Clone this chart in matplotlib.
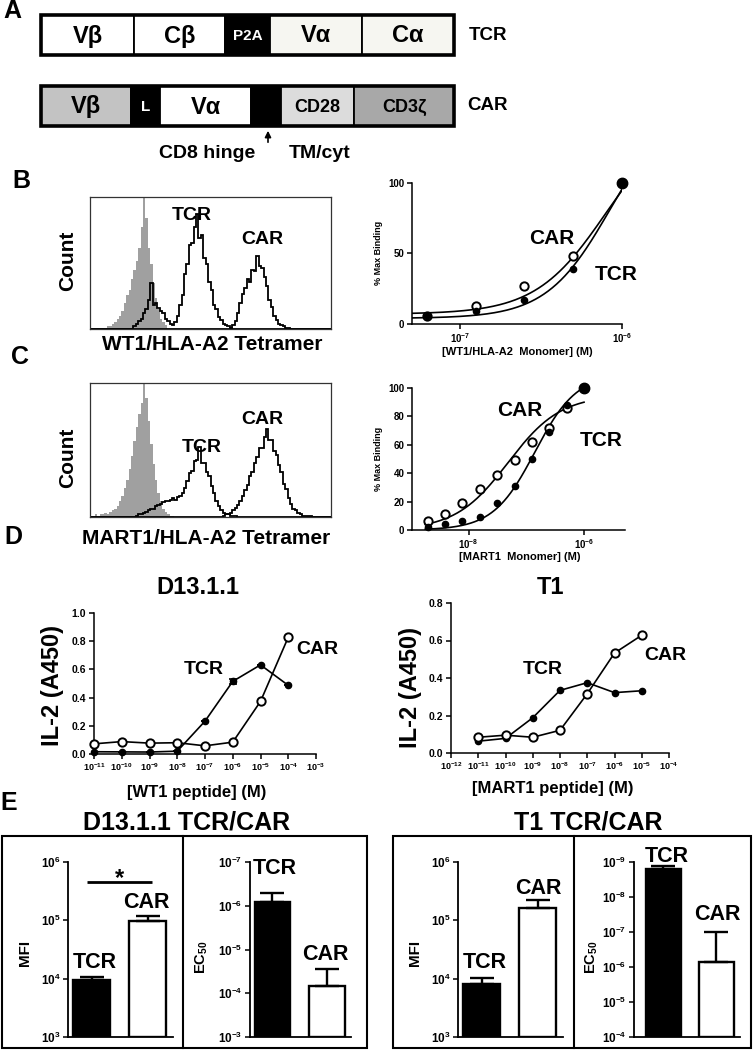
import numpy as np
import matplotlib
matplotlib.use('Agg')
import matplotlib.pyplot as plt
from matplotlib.patches import Rectangle
from matplotlib.ticker import NullLocator

plt.rcParams.update({
    'font.family': ['Liberation Sans', 'DejaVu Sans'],
    'font.weight': 'bold',
    'axes.labelweight': 'bold',
    'mathtext.fontset': 'custom',
    'mathtext.rm': 'Liberation Sans:bold',
    'mathtext.bf': 'Liberation Sans:bold',
    'mathtext.it': 'Liberation Sans:bold:italic',
    'mathtext.default': 'rm',
    'axes.linewidth': 1.0,
})

W, H = 753, 1050

# ---------------- data ----------------
# Panel A: construct schematics (relative segment lengths)
tcr_parts = ['Vβ', 'Cβ', 'P2A', 'Vα', 'Cα']
tcr_lengths = [93, 91, 45, 92, 92]
car_parts = ['Vβ', 'L', 'Vα', '', 'CD28', 'CD3ζ']
car_lengths = [90, 29, 91, 30, 73, 100]

# Panel B/C flow histograms: counts per channel (% of modal), start channel
wt1_neg_start = 3
wt1_neg = [1, 0, 1, 1, 2, 2, 4, 5, 8, 10, 14, 20, 26, 30, 38, 45, 52, 62, 78, 100,
           85, 62, 50, 35, 24, 15, 8, 5, 3, 1]
wt1_tcr_start = 18
wt1_tcr = [2, 4, 6, 8, 12, 15, 22, 35, 18, 20, 16, 14, 12, 8, 6, 4, 3, 5, 10, 18,
           26, 42, 50, 64, 66, 78, 88, 70, 72, 54, 50, 36, 30, 18, 15, 9, 7, 4, 3, 2, 1]
wt1_car_start = 58
wt1_car = [1, 3, 6, 12, 20, 27, 31, 38, 36, 45, 44, 56, 48, 47, 40, 33, 22, 17, 10, 7,
           4, 3, 2, 1, 1]

mart1_neg_start = 2
mart1_neg = [2, 1, 2, 2, 3, 2, 4, 5, 6, 8, 12, 16, 22, 28, 36, 46, 57, 68, 78, 86,
             100, 90, 72, 55, 40, 28, 18, 12, 6, 4, 2, 1, 1]
mart1_tcr_start = 19
mart1_tcr = [1, 2, 2, 3, 4, 5, 6, 6, 8, 9, 10, 11, 12, 12, 13, 14, 13, 15, 16, 18,
             22, 27, 33, 35, 42, 43, 53, 41, 41, 34, 31, 23, 18, 12, 8, 5, 3, 2, 2, 1, 1, 1]
mart1_car_start = 55
mart1_car = [1, 2, 2, 3, 5, 7, 9, 12, 16, 20, 24, 31, 34, 41, 45, 52, 52, 60, 66, 58,
             58, 50, 47, 39, 34, 25, 21, 14, 10, 6, 5, 3, 2, 1, 1, 1, 1]

# Panel B/C monomer binding (% max binding)
wt1_conc = [6.25e-8, 1.25e-7, 2.5e-7, 5e-7, 1e-6]
wt1_car_bind = [6, 13, 27, 48, 100]
wt1_tcr_bind = [6, 9, 17, 39, 100]
wt1_car_fit = (7, 150, -6.10, 2.0)     # bottom, top, logEC50, hill
wt1_tcr_fit = (4, 160, -6.07, 2.2)

mart1_conc = [1.95e-9, 3.9e-9, 7.8e-9, 1.56e-8, 3.125e-8, 6.25e-8, 1.25e-7, 2.5e-7, 5e-7, 1e-6]
mart1_car_bind = [6, 11, 19, 29, 39, 49, 62, 72, 86, 100]
mart1_tcr_bind = [2, 4, 6, 9, 19, 31, 50, 69, 88, 100]
mart1_car_fit = (0, 95, -7.316, 0.954)
mart1_tcr_fit = (0, 110, -6.85, 1.2)

# Panel D: IL-2 release
d13_conc = [1e-11, 1e-10, 1e-9, 1e-8, 1e-7, 1e-6, 1e-5, 1e-4]
d13_tcr = [0.016, 0.015, 0.014, 0.020, 0.233, 0.515, 0.632, 0.487]
d13_tcr_err = [0, 0, 0, 0, 0, 0.02, 0, 0]
d13_car = [0.072, 0.088, 0.077, 0.080, 0.058, 0.084, 0.373, 0.828]
d13_xticks = [1e-11, 1e-10, 1e-9, 1e-8, 1e-7, 1e-6, 1e-5, 1e-4, 1e-3]
d13_xlabels = ['$10^{-11}$', '$10^{-10}$', '$10^{-9}$', '$10^{-8}$', '$10^{-7}$',
               '$10^{-6}$', '$10^{-5}$', '$10^{-4}$', '$10^{-3}$']

t1_conc = [1e-11, 1e-10, 1e-9, 1e-8, 1e-7, 1e-6, 1e-5]
t1_tcr = [0.063, 0.078, 0.188, 0.334, 0.375, 0.322, 0.332]
t1_car = [0.084, 0.095, 0.084, 0.121, 0.316, 0.533, 0.628]
t1_xticks = [1e-12, 1e-11, 1e-10, 1e-9, 1e-8, 1e-7, 1e-6, 1e-5, 1e-4]
t1_xlabels = ['$10^{-12}$', '$10^{-11}$', '$10^{-10}$', '$10^{-9}$', '$10^{-8}$',
              '$10^{-7}$', '$10^{-6}$', '$10^{-5}$', '$10^{-4}$']

# Panel E: summary bars (TCR, CAR)
groups = ['TCR', 'CAR']
d13_mfi = [9.5e3, 9.7e4]
d13_mfi_sem = [1.3e3, 2.0e4]
d13_ec50 = [8.1e-7, 6.8e-5]
d13_ec50_sem = [3.0e-7, 4.0e-5]
t1_mfi = [8.1e3, 1.63e5]
t1_mfi_sem = [2.1e3, 5.7e4]
t1_ec50 = [1.55e-9, 7.4e-7]
t1_ec50_sem = [0.25e-9, 6.4e-7]
mfi_ticks = [1e3, 1e4, 1e5, 1e6]
mfi_labels = ['$10^{3}$', '$10^{4}$', '$10^{5}$', '$10^{6}$']
d13_ec_ticks = [1e-3, 1e-4, 1e-5, 1e-6, 1e-7]
d13_ec_labels = ['$10^{-3}$', '$10^{-4}$', '$10^{-5}$', '$10^{-6}$', '$10^{-7}$']
t1_ec_ticks = [1e-4, 1e-5, 1e-6, 1e-7, 1e-8, 1e-9]
t1_ec_labels = ['$10^{-4}$', '$10^{-5}$', '$10^{-6}$', '$10^{-7}$', '$10^{-8}$', '$10^{-9}$']

# ---------------- figure ----------------
fig = plt.figure(figsize=(W / 100, H / 100), dpi=100)


def add_ax(l, t, r, b):
    return fig.add_axes([l / W, 1 - b / H, (r - l) / W, (b - t) / H])


def prism(ax, size=7):
    for s in ['top', 'right']:
        ax.spines[s].set_visible(False)
    for s in ['left', 'bottom']:
        ax.spines[s].set_linewidth(1.1)
    ax.tick_params(direction='out', length=3.5, width=1.1, labelsize=size, pad=2)


def four_pl(x, p):
    b, t, ec, h = p
    return b + (t - b) / (1 + 10 ** ((ec - x) * h))


# ---- panel B / C histograms ----
edges = np.arange(101)


def counts(start, vals):
    c = np.zeros(100)
    c[start:start + len(vals)] = vals
    return c


def hist_panel(rect, neg, tcr, car):
    ax = add_ax(*rect)
    ax.stairs(counts(*neg), edges, fill=True, color='#a0a0a0', lw=0)
    ax.stairs(counts(*tcr), edges, color='k', lw=1.3)
    ax.stairs(counts(*car), edges, color='k', lw=1.3)
    ax.set_xlim(0, 100)
    ax.set_ylim(0, 101)
    ax.set_xticks([])
    ax.set_yticks([])
    for s in ax.spines.values():
        s.set_linewidth(0.9)
        s.set_color('#333333')
    return ax


hist_panel((90, 197, 331, 329), (wt1_neg_start, wt1_neg), (wt1_tcr_start, wt1_tcr),
           (wt1_car_start, wt1_car))
hist_panel((90, 383, 331, 517), (mart1_neg_start, mart1_neg), (mart1_tcr_start, mart1_tcr),
           (mart1_car_start, mart1_car))


# ---- binding curves ----
def binding_panel(rect, xlim, conc, car, tcr, carfit, tcrfit, yticks, xticks, xlabels, curve_from):
    ax = add_ax(*rect)
    ax.set_xscale('log')
    xs = np.linspace(np.log10(curve_from), -6, 200)
    ax.plot(10 ** xs, four_pl(xs, carfit), color='k', lw=1.2)
    ax.plot(10 ** xs, four_pl(xs, tcrfit), color='k', lw=1.2)
    ax.plot(conc, car, 'o', ms=6, mfc='white', mec='k', mew=1.4, clip_on=False, zorder=3)
    ax.plot(conc, tcr, 'o', ms=4.5, color='k', clip_on=False, zorder=4)
    ax.plot([conc[-1]], [tcr[-1]], 'o', ms=7.5, color='k', clip_on=False, zorder=5)
    ax.set_xlim(*xlim)
    ax.set_ylim(0, 100)
    ax.set_yticks(yticks)
    ax.set_xticks(xticks)
    ax.set_xticklabels(xlabels)
    ax.xaxis.set_minor_locator(NullLocator())
    prism(ax, 7)
    return ax


binding_panel((412, 183, 622, 324), (10 ** -7.296, 1e-6), wt1_conc, wt1_car_bind, wt1_tcr_bind,
              wt1_car_fit, wt1_tcr_fit, [0, 50, 100], [1e-7, 1e-6], ['$10^{-7}$', '$10^{-6}$'],
              10 ** -7.296)
binding_panel((412, 388, 625, 530), (10 ** -8.98, 10 ** -5.29), mart1_conc, mart1_car_bind,
              mart1_tcr_bind, mart1_car_fit, mart1_tcr_fit, [0, 20, 40, 60, 80, 100],
              [1e-8, 1e-6], ['$10^{-8}$', '$10^{-6}$'], 10 ** -8.75)


# ---- IL-2 panels ----
def il2_panel(rect, xlim, ylim, yticks, conc, tcr, car, xticks, xlabels, tcr_err=None):
    ax = add_ax(*rect)
    ax.set_xscale('log')
    ax.plot(conc, tcr, '-o', color='k', lw=1.2, ms=4.5, clip_on=False, zorder=3)
    if tcr_err is not None:
        ax.errorbar(conc, tcr, yerr=tcr_err, fmt='none', ecolor='k', elinewidth=1.2,
                    capsize=3, capthick=1.2, zorder=3)
    ax.plot(conc, car, '-o', color='k', lw=1.2, ms=6, mfc='white', mew=1.4, clip_on=False,
            zorder=4)
    ax.set_xlim(*xlim)
    ax.set_ylim(*ylim)
    ax.set_yticks(yticks)
    ax.set_yticklabels([f'{v:.1f}' for v in yticks])
    ax.set_xticks(xticks)
    ax.set_xticklabels(xlabels)
    ax.xaxis.set_minor_locator(NullLocator())
    prism(ax, 7.5)
    ax.tick_params(axis='x', labelsize=6.5)
    return ax


il2_panel((94, 613, 316, 754), (1e-11, 1e-3), (0, 1.0), [0.0, 0.2, 0.4, 0.6, 0.8, 1.0],
          d13_conc, d13_tcr, d13_car, d13_xticks, d13_xlabels, d13_tcr_err)
il2_panel((451, 603, 669, 753), (1e-12, 1e-4), (0, 0.8), [0.0, 0.2, 0.4, 0.6, 0.8],
          t1_conc, t1_tcr, t1_car, t1_xticks, t1_xlabels)


# ---- summary bar panels ----
def bar_panel(rect, xlim, vals, sems, ylim, ticks, labels, inverted):
    ax = add_ax(*rect)
    ax.set_yscale('log')
    ax.set_ylim(*ylim)
    base = ylim[0]
    x = np.arange(len(vals))
    ax.bar(x, [v - base for v in vals], bottom=base, width=0.66, color=['k', 'w'],
           edgecolor='k', lw=1.7, zorder=2)
    if inverted:
        yerr = [sems, [0] * len(sems)]
    else:
        yerr = [[0] * len(sems), sems]
    ax.errorbar(x, vals, yerr=yerr, fmt='none', ecolor='k', elinewidth=1.7, capsize=8.5,
                capthick=1.7, zorder=3)
    ax.set_xlim(*xlim)
    ax.set_xticks([])
    ax.set_yticks(ticks)
    ax.set_yticklabels(labels)
    ax.yaxis.set_minor_locator(NullLocator())
    prism(ax, 8.5)
    ax.spines['bottom'].set_linewidth(1.3)
    ax.spines['left'].set_linewidth(1.3)
    return ax


axm = bar_panel((68, 862, 173, 1037), (-0.42, 1.45), d13_mfi, d13_mfi_sem, (1e3, 1e6),
                mfi_ticks, mfi_labels, False)
axm.plot([-0.08, 1.07], [4.5e5, 4.5e5], color='k', lw=2, solid_capstyle='butt')
axm.text(0.5, 5.3e5, '*', ha='center', va='center', fontsize=17)
bar_panel((250, 862, 351, 1037), (-0.415, 1.45), d13_ec50, d13_ec50_sem, (1e-3, 1e-7),
          d13_ec_ticks, d13_ec_labels, True)
bar_panel((458, 862, 563, 1037), (-0.42, 1.45), t1_mfi, t1_mfi_sem, (1e3, 1e6),
          mfi_ticks, mfi_labels, False)
bar_panel((634, 862, 740, 1037), (-0.55, 1.45), t1_ec50, t1_ec50_sem, (1e-4, 1e-9),
          t1_ec_ticks, t1_ec_labels, True)

# ---------------- overlay (schematic + free text) ----------------
ov = fig.add_axes([0, 0, 1, 1], zorder=10)
ov.set_xlim(0, W)
ov.set_ylim(H, 0)
ov.axis('off')
ov.patch.set_alpha(0)

x0 = 41
tcr_colors = ['white', 'white', 'black', '#f6f6f1', '#f6f6f1']
car_colors = ['#c3c3c3', 'black', 'white', 'black', '#dcdcdc', '#a8a8a8']
tcr_left = x0 + np.concatenate([[0], np.cumsum(tcr_lengths)[:-1]])
car_left = x0 + np.concatenate([[0], np.cumsum(car_lengths)[:-1]])
ov.barh(35, tcr_lengths, left=tcr_left, height=40, color=tcr_colors, edgecolor='k', lw=1.3)
ov.barh(106, car_lengths, left=car_left, height=40, color=car_colors, edgecolor='k', lw=1.3)
ov.add_patch(Rectangle((x0, 15), sum(tcr_lengths), 40, fill=False, lw=2.6, ec='k'))
ov.add_patch(Rectangle((x0, 86), sum(car_lengths), 40, fill=False, lw=2.6, ec='k'))
seg_size = {'P2A': 11, 'L': 11, 'CD28': 13, 'CD3ζ': 13}
for parts, lefts, lens, cols, yc in [(tcr_parts, tcr_left, tcr_lengths, tcr_colors, 35),
                                     (car_parts, car_left, car_lengths, car_colors, 106)]:
    for p, l, w, c in zip(parts, lefts, lens, cols):
        ov.text(l + w / 2, yc + 1, p, ha='center', va='center',
                fontsize=seg_size.get(p, 17), color='white' if c == 'black' else 'black')
ov.text(488, 35, 'TCR', ha='center', va='center', fontsize=13.5)
ov.text(488, 106, 'CAR', ha='center', va='center', fontsize=13.5)
ov.annotate('', xy=(268, 128), xytext=(268, 145),
            arrowprops=dict(arrowstyle='-|>', color='k', lw=1.2, mutation_scale=9))
ov.text(207, 154, 'CD8 hinge', ha='center', va='center', fontsize=14)
ov.text(320, 154, 'TM/cyt', ha='center', va='center', fontsize=14)

# panel letters
for letter, (lx, ly) in {'A': (12, 11), 'B': (21, 181), 'C': (20, 357), 'D': (13, 537),
                         'E': (9, 803)}.items():
    ov.text(lx, ly, letter, ha='center', va='center', fontsize=18)

# B / C text
ov.text(68, 261, 'Count', rotation=90, ha='center', va='center', fontsize=15)
ov.text(212, 344, 'WT1/HLA-A2 Tetramer', ha='center', va='center', fontsize=15)
ov.text(192, 216, 'TCR', ha='center', va='center', fontsize=14)
ov.text(262, 240, 'CAR', ha='center', va='center', fontsize=14)
ov.text(68, 458, 'Count', rotation=90, ha='center', va='center', fontsize=15)
ov.text(206, 538, 'MART1/HLA-A2 Tetramer', ha='center', va='center', fontsize=15)
ov.text(202, 447, 'TCR', ha='center', va='center', fontsize=14)
ov.text(262, 420, 'CAR', ha='center', va='center', fontsize=14)

ov.text(379, 253, '% Max Binding', rotation=90, ha='center', va='center', fontsize=6.5)
ov.text(517, 352, '[WT1/HLA-A2  Monomer] (M)', ha='center', va='center', fontsize=8)
ov.text(552, 238, 'CAR', ha='center', va='center', fontsize=15)
ov.text(616, 274, 'TCR', ha='center', va='center', fontsize=15)
ov.text(379, 459, '% Max Binding', rotation=90, ha='center', va='center', fontsize=6.5)
ov.text(520, 557, '[MART1  Monomer] (M)', ha='center', va='center', fontsize=8)
ov.text(520, 410, 'CAR', ha='center', va='center', fontsize=15)
ov.text(601, 441, 'TCR', ha='center', va='center', fontsize=15)

# D text
ov.text(198, 588, 'D13.1.1', ha='center', va='center', fontsize=17)
ov.text(551, 588, 'T1', ha='center', va='center', fontsize=17)
ov.text(53, 685, 'IL-2 (A450)', rotation=90, ha='center', va='center', fontsize=17)
ov.text(411, 688, 'IL-2 (A450)', rotation=90, ha='center', va='center', fontsize=17)
ov.text(197, 792, '[WT1 peptide] (M)', ha='center', va='center', fontsize=12)
ov.text(553, 788, '[MART1 peptide] (M)', ha='center', va='center', fontsize=12)
ov.text(204, 670, 'TCR', ha='center', va='center', fontsize=14)
ov.text(317, 650, 'CAR', ha='center', va='center', fontsize=14)
ov.text(543, 670, 'TCR', ha='center', va='center', fontsize=14)
ov.text(665, 655, 'CAR', ha='center', va='center', fontsize=14)

# E text and frames
ov.text(187, 822, 'D13.1.1 TCR/CAR', ha='center', va='center', fontsize=18)
ov.text(588, 823, 'T1 TCR/CAR', ha='center', va='center', fontsize=18)
for (l, r, d) in [(2, 367, 183), (393, 751, 574)]:
    ov.add_patch(Rectangle((l, 836), r - l, 212, fill=False, lw=1.5, ec='k'))
    ov.plot([d, d], [836, 1048], color='k', lw=1.5)
ov.text(25, 953, 'MFI', rotation=90, ha='center', va='center', fontsize=11)
ov.text(415, 953, 'MFI', rotation=90, ha='center', va='center', fontsize=11)
ov.text(202, 957, 'EC$_{50}$', rotation=90, ha='center', va='center', fontsize=10.5)
ov.text(592, 957, 'EC$_{50}$', rotation=90, ha='center', va='center', fontsize=10.5)
for (tx, ty, s) in [(95, 962, 'TCR'), (146, 902, 'CAR'), (275, 869, 'TCR'), (325, 955, 'CAR'),
                    (485, 962, 'TCR'), (538, 889, 'CAR'), (667, 857, 'TCR'), (717, 915, 'CAR')]:
    ov.text(tx, ty, s, ha='center', va='center', fontsize=15.5)

fig.savefig('out.png', dpi=100)
